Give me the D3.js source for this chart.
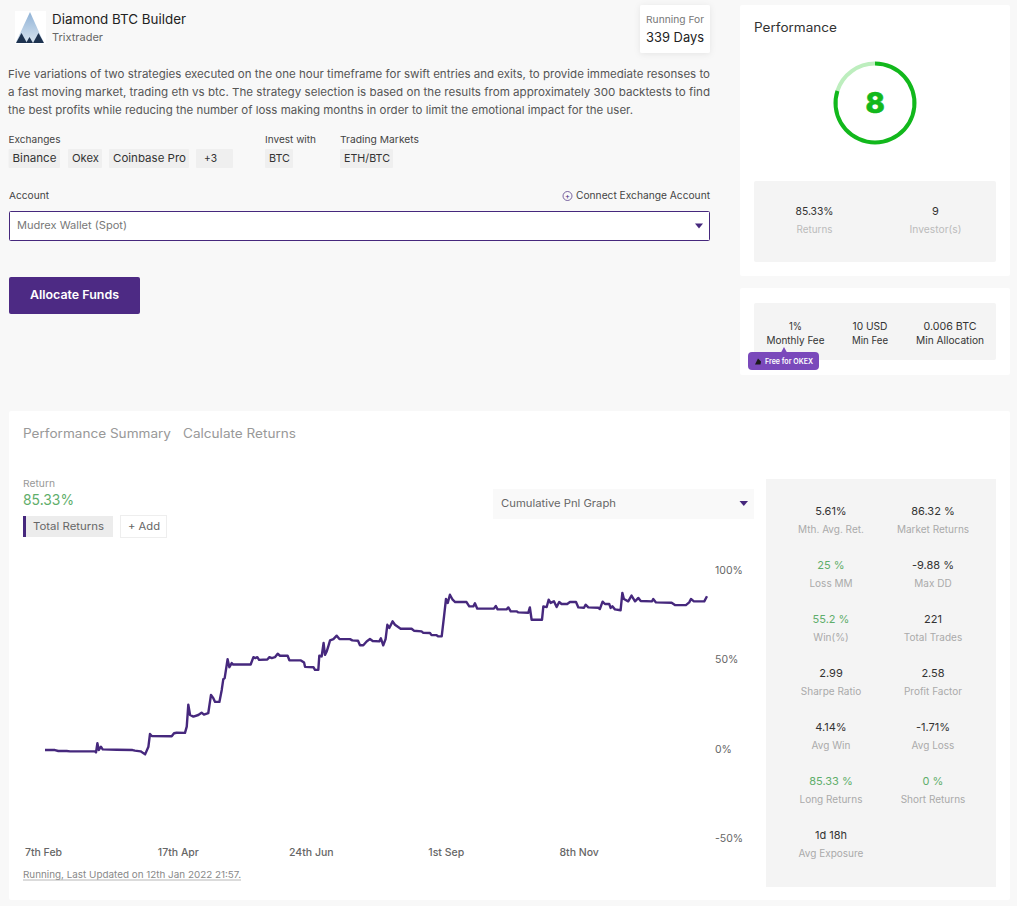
<!DOCTYPE html>
<html>
<head>
<meta charset="utf-8">
<script src="https://cdn.jsdelivr.net/npm/d3@7"></script>
<style>
  html, body { margin: 0; padding: 0; background: #f8f8f8; overflow: hidden; }
  svg { display: block; }
  text { font-family: Inter, "Open Sans", sans-serif; }
</style>
</head>
<body>
<script>
// days since 7th Feb 2021
const returnDays = [0,5.1,6.8,11.1,12.8,25.6,26.1,26.8,27.5,28.6,29.5,36.7,44.8,46,48.9,51.2,52.9,53.7,54.6,64.8,66,67.3,71.6,72.5,73.3,74.2,75.9,78.4,80.1,81.3,83.5,84.9,86.1,87,89.2,90.4,91.2,91.9,93.4,94.3,95.5,96.3,105.2,106.6,107.6,108.6,109.5,113.7,114.8,116,117.6,119,120.2,124.1,125,130.9,132.5,133,137.3,138.1,139.8,140.3,141.5,142.5,143.2,144.1,144.9,145.8,147.5,149.2,150.6,156,157.2,160.1,161.1,162.8,164.5,166.2,167.6,171,171.8,173,174.2,175.1,176.1,177.8,179,181.9,187.5,188.7,192.6,193.5,196.9,197.7,200.3,201.2,202.9,204.1,205.1,206,207.1,208.5,209.8,215.6,217,219.1,219.9,221.1,229.6,230.6,231.5,236.1,237,238.2,241.2,242.1,247.2,248,248.9,254.2,254.9,256.6,257.6,258.6,260.3,261.7,263,264.2,267.1,268.5,271.6,272.8,275.7,276.5,277.9,283,283.8,285.2,286.4,288.6,289.3,290.2,291.5,294.4,295.3,296.1,298.3,300,301.8,303.5,304.7,310.5,311.1,312.5,320.5,322.2,327.8,329.5,330.4,331.9,337.2,338.6];
// cumulative return in %
const returnPct = [-0.6,-0.6,-1.1,-1.1,-1.3,-1.3,-1.9,3.2,-0.6,1.3,-0.2,-0.4,-0.6,-0.9,-1.3,-3,1.3,8.4,7.3,7.1,8.8,9.1,9,12.5,24.8,19,18.1,19,20.3,19.2,20,30.2,28.4,26.3,26.3,33,39,39.6,50.2,45.7,48,47.2,47.2,51.3,50.8,51.3,49.8,50,51.3,50.8,51.3,53.2,52.1,52.1,49.6,49.5,48.3,45.9,45.7,44.2,44.2,52.1,51.7,59.2,52.6,54.5,57.3,60.7,61.4,63.3,61.4,61.4,60.7,60.5,58,58,60.1,61.4,60.3,60.1,61.8,57.9,61.4,69.4,67.6,71.3,69.4,67.2,67.2,66.1,65.7,64.9,64.8,63.6,63.6,62.9,62.9,74.1,83.8,81.6,86.2,83.4,82.1,82.1,79.7,79.7,81.4,78.4,78.4,79.9,78,78,79.1,76.9,76.9,76.3,76.1,79.1,72.2,72.2,79.7,79.3,83.4,81.6,82.5,79.3,82.1,81,81,82.1,82.1,79.1,78.9,80.6,79.1,78.9,78.2,82.3,81,81,78.8,79.7,78,77.5,87.2,83.8,82.5,85.7,82.5,84.4,82.7,82.5,83.8,81.9,81.7,80.4,80.4,81.9,83.8,82.5,82.5,85.33];

const xTickDays = [0, 69, 137, 206, 274];
const xTickLabels = ["7th Feb", "17th Apr", "24th Jun", "1st Sep", "8th Nov"];
const yTicks = [100, 50, 0, -50];

const statLabels = ["Mth. Avg. Ret.", "Market Returns", "Loss MM", "Max DD", "Win(%)", "Total Trades", "Sharpe Ratio", "Profit Factor", "Avg Win", "Avg Loss", "Long Returns", "Short Returns", "Avg Exposure"];
const statValues = ["5.61%", "86.32 %", "25 %", "-9.88 %", "55.2 %", "221", "2.99", "2.58", "4.14%", "-1.71%", "85.33 %", "0 %", "1d 18h"];
const greenStats = ["Loss MM", "Win(%)", "Long Returns", "Short Returns"];

const feeLabels = ["Monthly Fee", "Min Fee", "Min Allocation"];
const feeValues = ["1%", "10 USD", "0.006 BTC"];

const description = [
  "Five variations of two strategies executed on the one hour timeframe for swift entries and exits, to provide immediate resonses to",
  "a fast moving market, trading eth vs btc. The strategy selection is based on the results from approximately 300 backtests to find",
  "the best profits while reducing the number of loss making months in order to limit the emotional impact for the user."
];

const performanceScore = 8;
const performanceMax = 10;

const purple = "#46287d";
const green = "#5fae6b";

const svg = d3.select("body").append("svg").attr("width", 1017).attr("height", 906);

function box(x, y, w, h, fill, rx) {
  return svg.append("rect").attr("x", x).attr("y", y).attr("width", w).attr("height", h)
    .attr("fill", fill).attr("rx", rx || 0);
}

function label(x, y, str, size, color, anchor, len) {
  const t = svg.append("text").attr("x", x).attr("y", y).text(str)
    .attr("font-size", size).attr("fill", color).attr("text-anchor", anchor || "start");
  if (len) t.attr("textLength", len).attr("lengthAdjust", "spacingAndGlyphs");
  return t;
}

// cards
box(740, 5, 270, 271, "#fff", 2);
box(740, 288, 270, 87, "#fff", 2);
box(9, 411, 1001, 489, "#fff", 2);
box(754, 181, 242, 81, "#f4f4f4", 2);
box(754, 303, 242, 57, "#f4f4f4", 2);
box(766, 479, 230, 408, "#f4f4f4", 0);

// header
const defs = svg.append("defs");
const shadow = defs.append("filter").attr("id", "shadow")
  .attr("x", "-20%").attr("y", "-20%").attr("width", "140%").attr("height", "140%");
shadow.append("feDropShadow").attr("dx", 0).attr("dy", 1).attr("stdDeviation", 3)
  .attr("flood-color", "#000").attr("flood-opacity", 0.08);
box(640, 5, 70, 48, "#fff", 2).attr("filter", "url(#shadow)");
label(675, 23, "Running For", 9.5, "#777", "middle", 58);
label(675, 42, "339 Days", 13, "#222", "middle", 58);

// logo
const logoFade = defs.append("linearGradient").attr("id", "logoFade").attr("x1", 0).attr("y1", 0).attr("x2", 0).attr("y2", 1);
logoFade.append("stop").attr("offset", "0%").attr("stop-color", "#8fb2d6");
logoFade.append("stop").attr("offset", "100%").attr("stop-color", "#d5e2ef");
box(15, 11, 31, 33, "#fff", 0);
svg.append("path").attr("d", "M30 12 L43.5 42 L16 42 Z").attr("fill", "url(#logoFade)");
[[16, 27, 33], [26, 33, 37], [33, 44, 33]].forEach(d => {
  svg.append("path").attr("d", `M${d[0]} 43 L${(d[0] + d[1]) / 2} ${d[2]} L${d[1]} 43 Z`).attr("fill", "#1e3350");
});
label(52, 24, "Diamond BTC Builder", 13, "#222", "start", 134);
label(52, 41, "Trixtrader", 10.5, "#666", "start", 51);

description.forEach((line, i) => {
  label(8, 77.5 + i * 18, line, 11, "#555", "start", i < 2 ? 702 : 625);
});

// exchanges and markets
label(8.5, 143, "Exchanges", 9.5, "#444", "start", 52);
label(265, 143, "Invest with", 9.5, "#444", "start", 51);
label(340, 143, "Trading Markets", 9.5, "#444", "start", 79);
const chips = [["Binance", 8.5, 51.5, 44], ["Okex", 68, 34, 27], ["Coinbase Pro", 109, 80, 73], ["+3", 196, 37, 13], ["BTC", 265, 28, 21], ["ETH/BTC", 340, 53, 46]];
chips.forEach(c => {
  box(c[1], 149, c[2], 19, "#efefef", 1);
  const pad = c[0] === "+3" ? 8 : 4;
  label(c[1] + pad, 162, c[0], 11, "#333", "start", c[3]);
});

label(9, 199, "Account", 9.5, "#444", "start", 40);
svg.append("circle").attr("cx", 567.5).attr("cy", 196).attr("r", 4.5).attr("fill", "none").attr("stroke", purple).attr("stroke-width", 0.7);
label(567.5, 198.5, "+", 7.5, purple, "middle");
label(576, 199, "Connect Exchange Account", 10, "#444", "start", 134);

box(9.5, 211.5, 700, 29, "#fff", 1).attr("stroke", purple).attr("stroke-width", 1);
label(17, 229, "Mudrex Wallet (Spot)", 10.5, "#777", "start", 110);
svg.append("path").attr("d", "M695 223.5 L703 223.5 L699 228.5 Z").attr("fill", purple);

box(9, 277, 131, 37, "#4d2a84", 2);
label(74.5, 299, "Allocate Funds", 12, "#fff", "middle", 89).attr("font-weight", 600);

// performance gauge
label(754, 32, "Performance", 12.5, "#333", "start", 83);
const gaugeArc = d3.arc().innerRadius(37.5).outerRadius(41.5);
const gaugeAngle = d3.scaleLinear().domain([0, performanceMax]).range([0, 2 * Math.PI]);
const gauge = svg.append("g").attr("transform", "translate(875,103)");
gauge.append("path").attr("fill", "#bdeebe")
  .attr("d", gaugeArc({ startAngle: gaugeAngle(performanceScore), endAngle: gaugeAngle(performanceMax) }));
gauge.append("path").attr("fill", "#12b81c")
  .attr("d", gaugeArc({ startAngle: 0, endAngle: gaugeAngle(performanceScore) }));
gauge.append("text").attr("y", 10).attr("text-anchor", "middle").attr("font-size", 29)
  .attr("font-weight", 800).attr("fill", "#12b81c").attr("stroke", "#12b81c").attr("stroke-width", 0.6)
  .text(performanceScore);

label(814.5, 215, "85.33%", 11, "#333", "middle", 38);
label(814.5, 233, "Returns", 10, "#bbb", "middle", 36);
label(935.5, 215, "9", 11, "#333", "middle");
label(935.5, 233, "Investor(s)", 10, "#bbb", "middle", 52);

// fees
const feeX = [795.5, 870, 950];
const feeValueLen = [13, 35, 53];
const feeLabelLen = [58, 36, 68];
feeLabels.forEach((d, i) => {
  label(feeX[i], 330, feeValues[i], 10.5, "#333", "middle", feeValueLen[i]);
  label(feeX[i], 344, d, 10, "#333", "middle", feeLabelLen[i]);
});
svg.append("path").attr("d", "M781 352.5 L784 347 L787 352.5 Z").attr("fill", "#7a49bb");
box(748, 352, 71, 18, "#7a49bb", 4);
svg.append("path").attr("d", "M755 364.5 L758 358.5 L761 361.5 L760.5 364.5 Z").attr("fill", "#1b1b1b");
label(765, 364, "Free for OKEX", 7.5, "#fff", "start", 48).attr("font-weight", 600);

// tabs and return summary
label(23, 438, "Performance Summary", 12.5, "#999", "start", 148);
label(183, 438, "Calculate Returns", 12.5, "#999", "start", 113);
label(23, 487, "Return", 9.5, "#999", "start", 32);
label(23, 505, "85.33%", 15, green, "start", 51);
box(23, 516, 90, 21, "#ececec", 0);
box(23, 516, 3, 21, purple, 0);
label(33, 530, "Total Returns", 10.5, "#666", "start", 71);
box(120.5, 515.5, 46, 22, "#fff", 0).attr("stroke", "#eee");
label(128, 530, "+ Add", 10.5, "#666", "start", 32);

box(493, 489, 261, 30, "#f9f9f9", 0);
label(501, 507, "Cumulative Pnl Graph", 10.5, "#666", "start", 115);
svg.append("path").attr("d", "M739.5 501 L748 501 L743.8 506 Z").attr("fill", purple);

// return line
const startDate = new Date(2021, 1, 7);
const toDate = d => new Date(startDate.getTime() + d * 86400000);
const x = d3.scaleTime().domain([toDate(0), toDate(338.6)]).range([45, 707]);
const y = d3.scaleLinear().domain([-50, 100]).range([838.5, 570]);

const xAxis = d3.axisBottom(x)
  .tickValues(xTickDays.map(toDate))
  .tickFormat((d, i) => xTickLabels[i])
  .tickSize(0).tickPadding(0);
const xAxisG = svg.append("g").attr("transform", "translate(-2,849)").call(xAxis);
xAxisG.select(".domain").remove();
xAxisG.selectAll("text").attr("font-size", 10.5).attr("font-weight", 500).attr("fill", "#666").attr("font-family", "Inter");

const yAxis = d3.axisRight(y).tickValues(yTicks).tickFormat(d => d + "%").tickSize(0).tickPadding(0);
const yAxisG = svg.append("g").attr("transform", "translate(715,0)").call(yAxis);
yAxisG.select(".domain").remove();
yAxisG.selectAll("text").attr("font-size", 10.5).attr("fill", "#666").attr("font-family", "Inter");

const line = d3.line().x(d => x(toDate(d))).y((d, i) => y(returnPct[i]));
svg.append("path").datum(returnDays)
  .attr("fill", "none").attr("stroke", purple).attr("stroke-width", 2.4)
  .attr("stroke-linejoin", "round").attr("d", line);

label(23, 878, "Running, Last Updated on 12th Jan 2022 21:57.", 9.5, "#888", "start", 218);
svg.append("line").attr("x1", 23).attr("x2", 241).attr("y1", 880).attr("y2", 880).attr("stroke", "#999").attr("stroke-width", 0.7);

// stats panel
statLabels.forEach((d, i) => {
  const cx = i % 2 === 0 ? 831 : 933;
  const row = Math.floor(i / 2);
  const valueColor = greenStats.includes(d) ? green : "#333";
  label(cx, 515 + row * 54, statValues[i], 11, valueColor, "middle");
  label(cx, 533 + row * 54, d, 10, "#aaa", "middle");
});
</script>
</body>
</html>
